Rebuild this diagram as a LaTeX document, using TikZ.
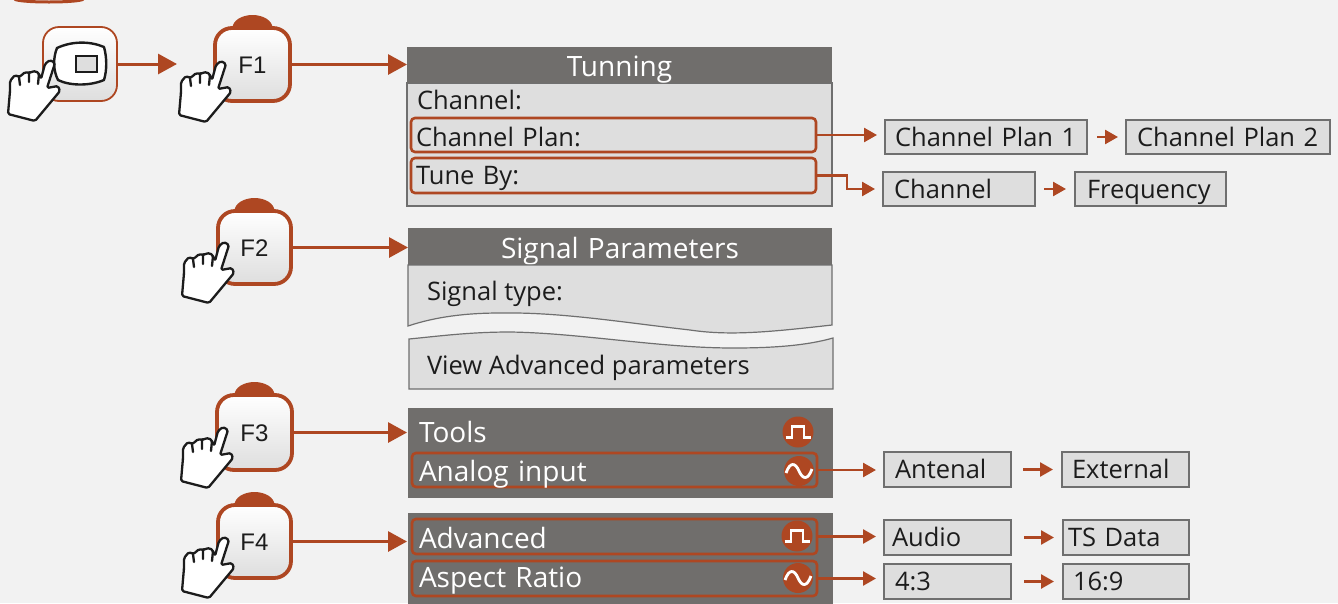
\documentclass[tikz,border=0pt]{standalone}
\usepackage{fontspec}
\setmainfont{Open Sans}
\newfontfamily\btnfont{Liberation Sans}
\usetikzlibrary{arrows.meta,shapes.misc}
\definecolor{bgc}{HTML}{F2F2F2}
\definecolor{dark}{HTML}{706E6C}
\definecolor{lite}{HTML}{DEDEDE}
\definecolor{edge}{HTML}{6F6F6F}
\definecolor{rust}{HTML}{AE4722}
\definecolor{ink}{HTML}{1C1C1C}
\newcommand\bodyfont{\fontsize{25.5}{25.5}\selectfont}
\newcommand\whitefont{\fontsize{28}{28}\selectfont}
\tikzset{
  x=1pt,y=-1pt,outer sep=0pt,
  bigarrow/.style={draw=rust,line width=3pt,-{Triangle[length=19pt,width=20pt]}},
  smallarrow/.style={draw=rust,line width=2.6pt,-{Triangle[length=13pt,width=14pt]}},
  panelhead/.style={fill=dark,draw=none,text=white,align=center,font=\whitefont,text height=23pt,text depth=1pt},
  panelbody/.style={fill=lite,draw=edge,line width=1.2pt,text=ink},
  optbox/.style={fill=lite,draw=edge,line width=1.2pt,text=ink},
  hilite/.style={draw=rust,line width=2.6pt,rounded corners=4pt,text=ink},
  hilitew/.style={draw=rust,line width=2.6pt,rounded corners=4pt,text=white,font=\whitefont},
  fbutton/.style={draw=rust,line width=3.8pt,rounded corners=17pt,top color=white,bottom color=black!13,text=ink,font=\btnfont\fontsize{24}{24}\selectfont,inner sep=0pt,text height=17.2pt,text depth=0pt},
  pushbutton/.style={draw=rust,line width=1.8pt,rounded corners=16pt,top color=white,bottom color=black!13,inner sep=0pt},
  handline/.style={draw=ink,line width=2.3pt,line join=round,line cap=round},
  iconcirc/.style={fill=rust,draw=none,circle,inner sep=0pt},
  iconline/.style={draw=white,line width=2.8pt},
  plainlabel/.style={anchor=west,inner sep=0pt,text=ink,font=\bodyfont}
}
% rectangular text node from corners: [style]{name}{x1}{y1}{x2}{y2}{left pad}{text}
\newcommand\tbox[8][]{%
  \node[anchor=north west,rectangle,inner ysep=0pt,inner xsep=#7pt,
        text width={(#5-#3-2*#7)*1pt},minimum height={(#6-#4)*1pt},
        align=left,text height=21pt,text depth=3pt,
        font=\bodyfont,#1] (#2) at (#3,#4) {#8};}
\newcommand\fbtn[6]{% name x1 y1 x2 y2 label
  \fill[rust] ({(#2+#4)/2},#3) ellipse [x radius=20,y radius=13];
  \node[fbutton,anchor=north west,minimum width={(#4-#2)*1pt},minimum height={(#5-#3)*1pt}] (#1) at (#2,#3) {#6};}
\newcommand\hand[2]{%
  \begin{scope}[shift={(#1,#2)}]
    \draw[handline,fill=white,rounded corners=1.6pt]
      (50,59)--(55,62)--(47,87)--(58,85)--(60,90)--(35,120)--(8,113)--(10,90)--(10,80)--(15,74)--(19,76)--(22,74)--(25,71)--(29,72)--(31,71)--(36,70)--(39,73)--(41,78)--(45,63)--cycle;
    \draw[handline] (19,76)--(20,84) (29,72)--(29,81) (39,73)--(38,83);
  \end{scope}}
\newcommand\pulse[1]{%
  \begin{scope}[shift={(#1.center)}]
    \draw[iconline] (-12.5,5.5) -- (-6,5.5) -- (-6,-5.5) -- (6,-5.5) -- (6,5.5) -- (12.5,5.5);
  \end{scope}}
\newcommand\wave[1]{%
  \begin{scope}[shift={(#1.center)}]
    \draw[iconline] (-13,2) .. controls (-9,-9) and (-4,-9) .. (0,0) .. controls (4,9) and (9,9) .. (13,-2);
  \end{scope}}
\begin{document}
\begin{tikzpicture}
\useasboundingbox (0,0) rectangle (1338,603);
\fill[bgc] (0,0) rectangle (1338,603);
\clip (0,0) rectangle (1338,603);
% top fragment
\draw[rust,line width=3pt] (49,-1) ellipse [x radius=34,y radius=3];

% push button
\node[pushbutton,anchor=north west,minimum width=74pt,minimum height=74pt] (push) at (43,27) {};
\draw[draw=ink,line width=2.4pt,fill=white,line join=round] (57,48) .. controls (72,41) and (90,41) .. (104,47) .. controls (107,58) and (107,70) .. (104,80) .. controls (90,86) and (70,86) .. (58,80) .. controls (53,70) and (53,58) .. (57,48) -- cycle;
\draw[draw=ink,line width=1.5pt,fill=lite] (76,56) rectangle (97,72);

% F buttons
\fbtn{f1}{215}{28}{290}{101}{F1}
\fbtn{f2}{218}{211}{291}{284}{F2}
\fbtn{f3}{217}{395}{292}{470}{F3}
\fbtn{f4}{218}{505}{291}{578}{F4}

% Tunning panel
\tbox[panelbody]{tunbody}{407}{83}{832}{206}{9}{}
\tbox[panelhead]{tunhead}{407}{47}{832}{83}{0}{Tunning}
\node[plainlabel] (chan) at (417,100) {Channel:};
\tbox[hilite,text height=23pt,text depth=1pt]{plan}{411}{118}{816}{152}{5}{Channel Plan:}
\tbox[hilite]{tune}{411}{158}{816}{193}{5}{Tune By:}
\tbox[optbox]{plan1}{885}{120}{1087}{154}{10}{Channel Plan 1}
\tbox[optbox]{plan2}{1126}{120}{1330}{154}{11}{Channel Plan 2}
\tbox[optbox]{tchan}{883}{172}{1035}{206}{11}{Channel}
\tbox[optbox]{tfreq}{1075}{172}{1226}{206}{12}{Frequency}

% Signal panel
\tbox[panelhead,text height=24pt,text depth=0pt]{sighead}{408}{228}{832}{265}{0}{Signal Parameters}
\draw[edge,line width=1.2pt,fill=lite] (408,265) -- (832,265) -- (832,325) .. controls (770,332) and (730,336) .. (690,330) .. controls (620,322) and (560,312) .. (500,313) .. controls (465,313) and (435,317) .. (408,326) -- cycle;
\draw[edge,line width=1.2pt,fill=lite] (409,339) .. controls (440,336) and (470,332) .. (510,332) .. controls (580,333) and (660,348) .. (733,348) .. controls (770,348) and (805,346) .. (833,338) -- (833,389) -- (409,389) -- cycle;
\node[plainlabel] (sigtype) at (427,294) {Signal type:};
\node[plainlabel] (viewadv) at (427,368) {View Advanced parameters};

% Tools panel
\fill[dark] (408,408) rectangle (833,498);
\node[plainlabel,text=white,font=\whitefont] (tools) at (419,432) {Tools};
\node[iconcirc,minimum size=31pt] (i1) at (798,432) {};
\pulse{i1}
\node[iconcirc,minimum size=30pt] (i2) at (799,471) {};
\wave{i2}
\tbox[hilitew,text height=23pt,text depth=1pt]{analog}{412}{453}{817}{487}{7}{Analog input}
\tbox[optbox]{ant}{884}{452}{1011}{487}{11}{Antenal}
\tbox[optbox]{ext}{1062}{452}{1189}{487}{10}{External}

% Advanced panel
\fill[dark] (408,513) rectangle (833,610);
\node[iconcirc,minimum size=31pt] (i3) at (797,536) {};
\pulse{i3}
\node[iconcirc,minimum size=30pt] (i4) at (798,578) {};
\wave{i4}
\tbox[hilitew,text height=24pt,text depth=0pt]{adv}{412}{519}{817}{554}{7}{Advanced}
\tbox[hilitew]{asp}{412}{561}{817}{596}{7}{Aspect Ratio}
\tbox[optbox]{aud}{884}{520}{1011}{555}{8}{Audio}
\tbox[optbox]{ts}{1063}{520}{1189}{555}{5}{TS Data}
\tbox[optbox]{r43}{884}{564}{1011}{599}{11}{4:3}
\tbox[optbox]{r169}{1063}{564}{1189}{599}{10}{16:9}

% connectors
\draw[bigarrow] (push.east) -- ++(60,0);
\draw[bigarrow] (f1.east) -- (f1.east -| tunhead.west);
\draw[bigarrow] (f2.east) -- (f2.east -| sighead.west);
\draw[bigarrow] (f3.east) -- (f3.east -| tunhead.west);
\draw[bigarrow] (f4.east) -- (f4.east -| tunhead.west);
\draw[smallarrow,shorten >=8pt] (plan.east) -- (plan.east -| plan1.west);
\draw[smallarrow] (plan1.east) ++(10,0) -- ++(21,0);
\draw[smallarrow,shorten >=8pt] (tune.east) -- ++(31,0) |- (tchan.west);
\draw[smallarrow] (tchan.east) ++(9,0) -- ++(22,0);
\draw[smallarrow,shorten >=8pt] (analog.east) -- (analog.east -| ant.west);
\draw[smallarrow] (ant.east) ++(12,0) -- ++(30,0);
\draw[smallarrow,shorten >=8pt] (adv.east) -- (adv.east -| aud.west);
\draw[smallarrow] (aud.east) ++(13,0) -- ++(30,0);
\draw[smallarrow,shorten >=8pt] (asp.east) -- (asp.east -| r43.west);
\draw[smallarrow] (r43.east) ++(13,0) -- ++(30,0);

% hands
\hand{0}{1}
\hand{171}{2}
\hand{174}{183}
\hand{173}{368}
\hand{174}{478}
\end{tikzpicture}
\end{document}
